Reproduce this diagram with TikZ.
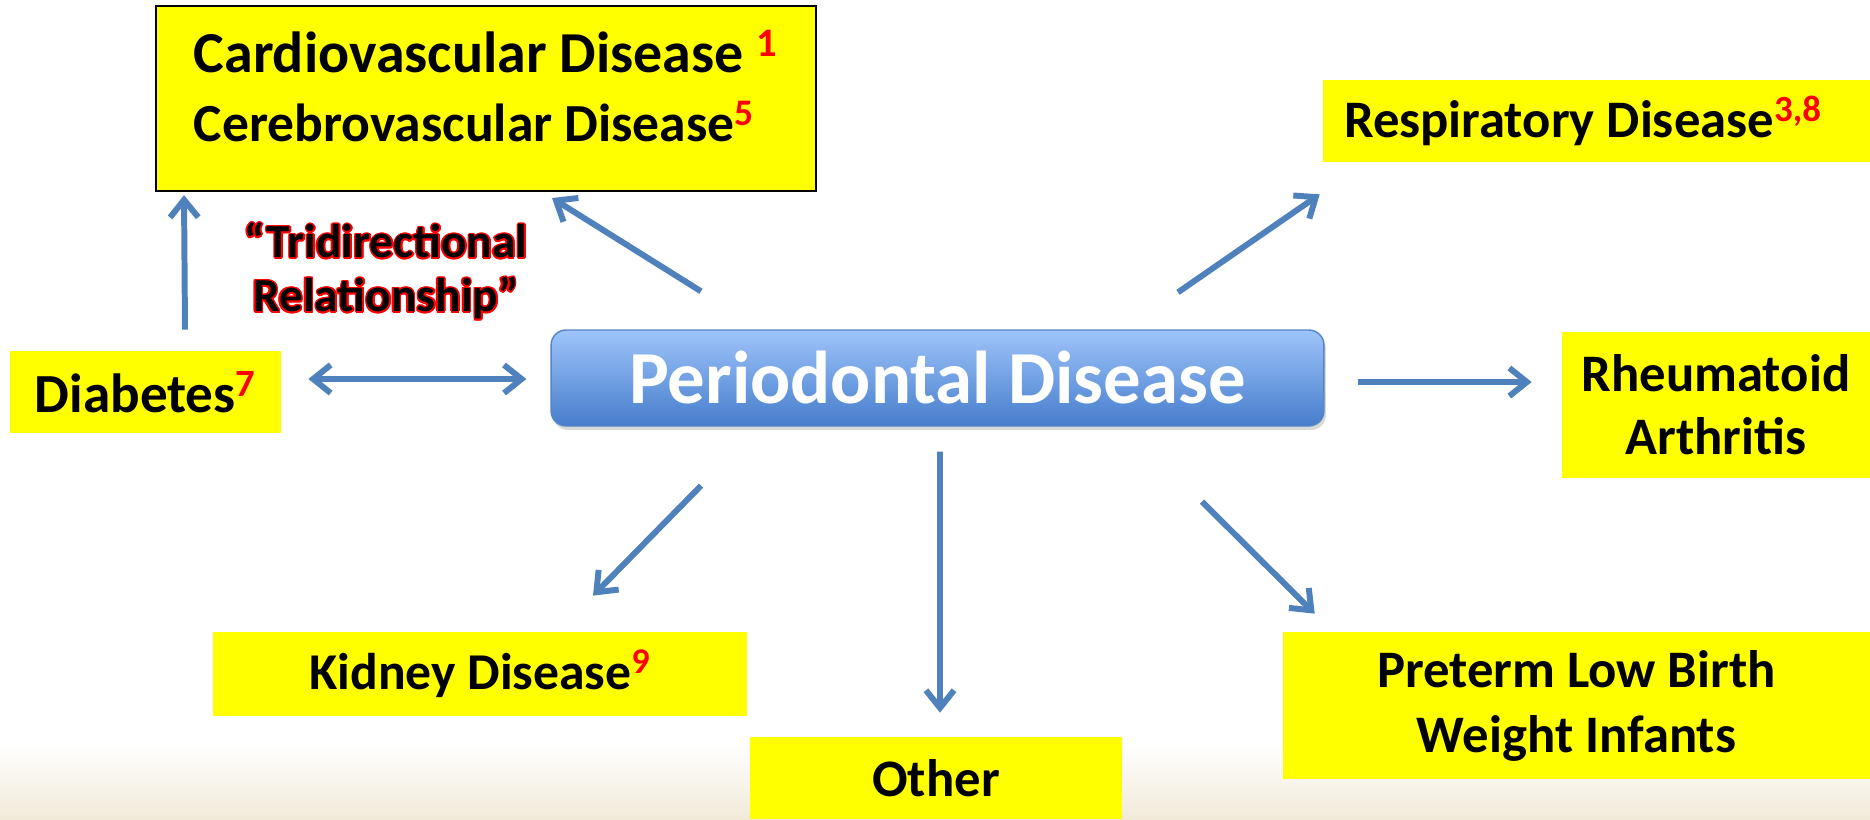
\documentclass[tikz,border=0pt]{standalone}
\usepackage{fontspec}
\setmainfont{Carlito}
\usetikzlibrary{arrows.meta,calc,shadows}
\definecolor{myyellow}{RGB}{255,255,0}
\definecolor{myarrow}{RGB}{79,129,189}
\definecolor{pdtop}{RGB}{158,196,250}
\definecolor{pdbottom}{RGB}{70,125,204}
\definecolor{pdborder}{RGB}{84,134,198}
\definecolor{mybeige}{RGB}{241,234,216}
\definecolor{myred}{RGB}{255,0,0}
\newcommand{\refmark}[1]{\textsuperscript{\textcolor{myred}{#1}}}

\begin{document}
\begin{tikzpicture}[x=0.02cm, y=-0.02cm,
  box/.style={fill=myyellow, inner sep=0pt, align=center,
    font=\fontsize{30}{36}\selectfont\bfseries},
  pdbox/.style={rounded corners=0.3cm, top color=pdtop, bottom color=pdbottom,
    draw=pdborder, line width=0.8pt, text=white, minimum width=15.46cm, minimum height=1.92cm,
    font=\fontsize{42.6}{50}\selectfont\bfseries,
    drop shadow={opacity=0.3, shadow xshift=0.04cm, shadow yshift=-0.08cm}},
  trid/.style={align=center, font=\fontsize{27}{30.6}\selectfont\bfseries},
  arr/.style={draw=myarrow, line width=3.4pt, -{Straight Barb[length=10pt,width=16pt]}}]

\useasboundingbox (0,0) rectangle (1870,819);
% floor shading
\shade[top color=white, bottom color=mybeige] (0,745) rectangle (1870,819);

% disease boxes
\node[box, draw=black, line width=1.2pt, minimum width=13.2cm, minimum height=3.7cm,
  align=left, text depth=0.5cm, font=\fontsize{33}{39.2}\selectfont\bfseries] (cv) at (486,98.5)
  {Cardiovascular Disease \refmark{1}\\{\fontsize{30.5}{39.2}\selectfont Cerebrovascular Disease\refmark{5}}};
\node[box, inner xsep=0.42cm, text width=10.1cm, align=flush left, minimum height=1.64cm] (resp) at (1596.5,121)
  {Respiratory Disease\refmark{3,8}};
\node[box, minimum width=5.42cm, minimum height=1.64cm, font=\fontsize{31.4}{36}\selectfont\bfseries] (diab) at (145.5,392)
  {Diabetes\refmark{7}};
\node[box, minimum width=6.16cm, minimum height=2.92cm] (ra) at (1716,405)
  {Rheumatoid\\Arthritis};
\node[box, minimum width=10.68cm, minimum height=1.68cm, font=\fontsize{29.4}{36}\selectfont\bfseries] (kid) at (480,674)
  {Kidney Disease\refmark{9}};
\node[box, minimum width=7.44cm, minimum height=1.64cm] (other) at (936,778)
  {Other};
\node[box, minimum width=11.74cm, minimum height=2.94cm, font=\fontsize{30}{37}\selectfont\bfseries] (pt) at (1576.5,705.5)
  {Preterm Low Birth\\Weight Infants};

% centre
\node[pdbox] (pd) at (937.5,378) {Periodontal Disease};

% outlined label
\foreach \a in {0,30,...,330}
  \node[trid, text=myred] at ($(386,271)+(\a:1.6)$)
    {``Tridirectional\\Relationship''};
\node[trid] (tri) at (386,271) {``Tridirectional\\Relationship''};

% arrows
\draw[arr] ($(pd.north)+(-236.5,-38)$) -- ($(cv.south)+(66,6)$);
\draw[arr] ($(pd.north)+(240.5,-37)$) -- ($(resp.south west)+(-3,32)$);
\draw[arr] ($(pd.east)+(33,4)$) -- ($(ra.west)+(-30,-23)$);
\draw[arr] ($(pd.south)+(-236.5,59)$) -- ($(kid.north)+(113,-36)$);
\draw[arr] ($(pd.south)+(2.5,25)$) -- ($(other.north)+(4,-24)$);
\draw[arr] ($(pd.south)+(264.5,75)$) -- ($(pt.north west)+(32,-18)$);
\draw[arr, {Straight Barb[length=10pt,width=16pt]}-{Straight Barb[length=10pt,width=16pt]}]
  ($(diab.east)+(27,-13)$) -- ($(pd.west)+(-24,1)$);
\draw[arr] ($(diab.north)+(39.5,-21)$) -- ($(cv.south west)+(29,3)$);

\end{tikzpicture}
\end{document}
